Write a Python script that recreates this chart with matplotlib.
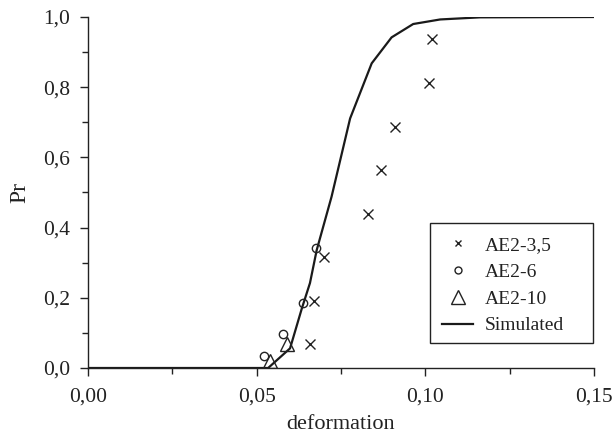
import matplotlib
matplotlib.use("Agg")
import matplotlib.pyplot as plt
from matplotlib.ticker import MultipleLocator, FuncFormatter
from matplotlib.lines import Line2D
from matplotlib.patches import Rectangle

plt.rcParams['font.family'] = ['Liberation Serif', 'DejaVu Serif']

# Data
ae35_x = [0.0658, 0.067, 0.070, 0.083, 0.087, 0.091, 0.101, 0.102]
ae35_y = [0.068, 0.19, 0.317, 0.44, 0.565, 0.688, 0.812, 0.937]

ae6_x = [0.0522, 0.0579, 0.0638, 0.0675]
ae6_y = [0.034, 0.096, 0.184, 0.342]

ae10_x = [0.054, 0.0589]
ae10_y = [0.02, 0.067]

sim_x = [0.0, 0.0534, 0.0599, 0.0634, 0.0658, 0.0678, 0.0722, 0.0777, 0.0841,
         0.0900, 0.0964, 0.1044, 0.1162, 0.1500]
sim_y = [0.0, 0.0, 0.056, 0.170, 0.242, 0.336, 0.488, 0.711, 0.868,
         0.942, 0.980, 0.993, 0.999, 1.0]

labels = ['AE2-3,5', 'AE2-6', 'AE2-10', 'Simulated']

C = '#222222'
W, H = 613, 436

fig = plt.figure(figsize=(W/100, H/100), dpi=100)
ax = fig.add_axes([88/W, 1-368/H, (594-88)/W, (368-17)/H])

ax.plot(sim_x, sim_y, color='#1a1a1a', lw=1.6, zorder=2)
ax.plot(ae35_x, ae35_y, ls='none', marker='x', ms=7, mew=1.0, color=C, zorder=3)
ax.plot(ae6_x, ae6_y, ls='none', marker='o', ms=6, mew=1.0, mfc='none',
        color=C, zorder=3)
ax.plot(ae10_x, ae10_y, ls='none', marker='^', ms=10, mew=1.0, mfc='none',
        color=C, zorder=3)

ax.set_xlim(0, 0.15)
ax.set_ylim(0, 1.0)
for s in ['top', 'right']:
    ax.spines[s].set_visible(False)
for s in ['left', 'bottom']:
    ax.spines[s].set_linewidth(1.0)
    ax.spines[s].set_color(C)

ax.xaxis.set_major_locator(MultipleLocator(0.05))
ax.xaxis.set_minor_locator(MultipleLocator(0.025))
ax.yaxis.set_major_locator(MultipleLocator(0.2))
ax.yaxis.set_minor_locator(MultipleLocator(0.1))
ax.xaxis.set_major_formatter(FuncFormatter(lambda v, p: f"{v:.2f}".replace('.', ',')))
ax.yaxis.set_major_formatter(FuncFormatter(lambda v, p: f"{v:.1f}".replace('.', ',')))
ax.tick_params(which='major', direction='out', length=6, width=1.0, labelsize=15.5,
               color=C, labelcolor=C)
ax.tick_params(which='minor', direction='out', length=4, width=1.0, color=C)
ax.tick_params(axis='x', pad=8)
ax.tick_params(axis='y', pad=7)

ax.set_xlabel('deformation', fontsize=16, color=C, labelpad=6)
ax.set_ylabel('Pr', fontsize=17, color=C, labelpad=9)

# legend frame
fig.add_artist(Rectangle((430/W, 1-343/H), (593-430)/W, (343-223)/H,
                         transform=fig.transFigure, fill=False, lw=1.0,
                         edgecolor=C, zorder=5))

handles = [
    Line2D([], [], ls='none', marker='x', ms=5, mew=1.0, color=C),
    Line2D([], [], ls='none', marker='o', ms=5, mew=1.0, mfc='none', color=C),
    Line2D([], [], ls='none', marker='^', ms=10, mew=1.0, mfc='none', color=C),
    Line2D([], [], color='#1a1a1a', lw=1.6),
]
leg = ax.legend(handles, labels,
                loc='upper left', bbox_to_anchor=(442/W, 1-236/H),
                bbox_transform=fig.transFigure, fontsize=14, frameon=False,
                borderpad=0, handlelength=1.6, handletextpad=0.62,
                labelspacing=0.48, borderaxespad=0)
for t in leg.get_texts():
    t.set_color(C)

fig.savefig('out.png', dpi=100)
